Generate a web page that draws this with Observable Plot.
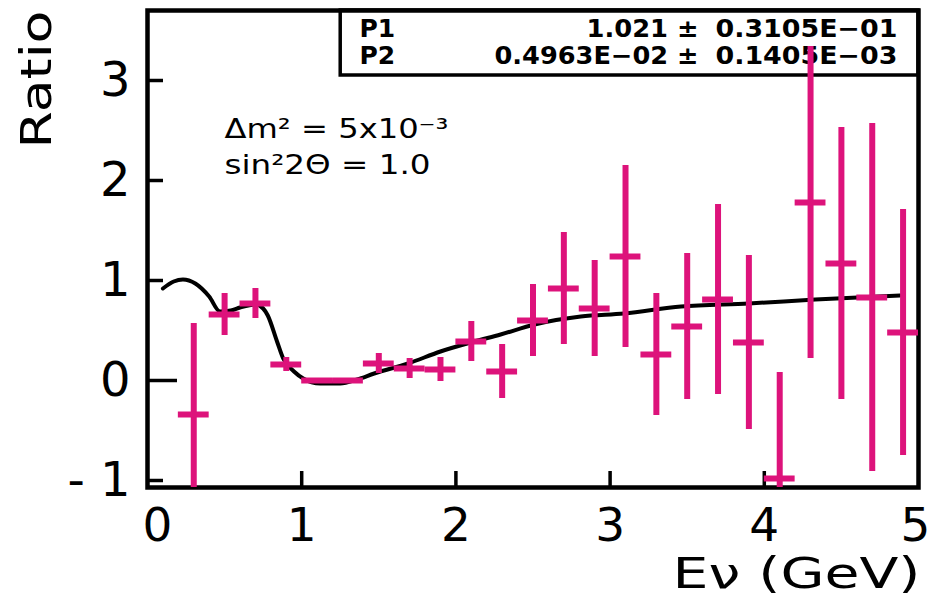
<!DOCTYPE html>
<html>
<head>
<meta charset="utf-8">
<script src="https://cdn.jsdelivr.net/npm/d3@7"></script>
<script src="https://cdn.jsdelivr.net/npm/@observablehq/plot@0.6"></script>
<style>
  html, body { margin: 0; padding: 0; background: #fff; }
  #chart svg { display: block; }
</style>
</head>
<body>
<div id="chart"></div>
<script>
// ---------- data ----------
const binCenters = [0.3, 0.5, 0.7, 0.9, 1.1, 1.3, 1.5, 1.7, 1.9, 2.1, 2.3, 2.5, 2.7, 2.9, 3.1, 3.3, 3.5, 3.7, 3.9, 4.1, 4.3, 4.5, 4.7, 4.9];
const ratioValues = [-0.34, 0.66, 0.77, 0.16, 0.00, 0.00, 0.17, 0.12, 0.11, 0.39, 0.09, 0.60, 0.92, 0.72, 1.24, 0.26, 0.54, 0.81, 0.38, -0.98, 1.78, 1.17, 0.83, 0.48];
const ratioErrors = [0.91, 0.21, 0.15, 0.07, 0.02, 0.02, 0.10, 0.10, 0.12, 0.20, 0.27, 0.36, 0.56, 0.48, 0.91, 0.61, 0.73, 0.95, 0.87, 1.06, 1.56, 1.36, 1.74, 1.23];
const binWidth = 0.2;

const fitE = [0.10, 0.17, 0.23, 0.31, 0.40, 0.47, 0.54, 0.60, 0.70, 0.75, 0.78, 0.84, 0.88, 0.95, 1.01, 1.12, 1.25, 1.36, 1.47, 1.69, 1.90, 2.12, 2.29, 2.51, 2.81, 3.09, 3.46, 3.90, 4.33, 4.88];
const fitRatio = [0.92, 0.99, 1.01, 0.97, 0.84, 0.69, 0.70, 0.73, 0.76, 0.72, 0.65, 0.39, 0.22, 0.09, 0.02, -0.03, -0.03, 0.01, 0.07, 0.17, 0.29, 0.39, 0.46, 0.56, 0.64, 0.67, 0.74, 0.77, 0.81, 0.85];

const xTicks = [0, 1, 2, 3, 4, 5];
const yTicks = [-1, 0, 1, 2, 3];

const statNames = ["P1", "P2"];
const statValues = ["1.021 \u00B1", "0.4963E\u221202 \u00B1"];
const statErrors = ["0.3105E\u221201", "0.1405E\u221203"];

const annotationLines = ["\u0394m\u00B2 = 5x10\u207B\u00B3", "sin\u00B22\u0398 = 1.0"];

const xLabel = "E\u03BD (GeV)";
const yLabel = "Ratio";

// ---------- tables ----------
const points = binCenters.map((E, i) => ({E, r: ratioValues[i], e: ratioErrors[i]}));
const fit = fitE.map((E, i) => ({E, r: fitRatio[i]}));

// ---------- layout ----------
const W = 931, H = 605;
const mL = 147, mR = 13, mT = 10, mB = 118;
const frameW = W - mL - mR, frameH = H - mT - mB;
const pink = "#dd137b";
const axisFont = "DejaVu Sans, sans-serif";

const statFont = {fontFamily: axisFont, fontWeight: "bold", fontSize: 25, fill: "black", lineAnchor: "bottom", frameAnchor: "top-left"};
const statMarks = statNames.flatMap((n, i) => [
  Plot.text([n], {...statFont, text: d => d, dx: 212, dy: 26 + 27 * i, textAnchor: "start"}),
  Plot.text([statValues[i]], {...statFont, text: d => d, dx: 551, dy: 26 + 27 * i, textAnchor: "end"}),
  Plot.text([statErrors[i]], {...statFont, text: d => d, dx: 750, dy: 26 + 27 * i, textAnchor: "end"})
]);
const noteMarks = annotationLines.map((t, i) =>
  Plot.text([t], {frameAnchor: "top-left", text: d => d, dx: 77, dy: 127 + 36 * i, lineAnchor: "bottom", textAnchor: "start",
    fontFamily: axisFont, fontSize: 27, fill: "black"}));

// x tick labels: first and last nudged like the reference
const xTickFont = {frameAnchor: "bottom", text: d => String(d), x: d => d, lineAnchor: "top", dy: 20,
  fontFamily: axisFont, fontSize: 47, fill: "black"};
const xTickLabelMarks = [
  Plot.text(xTicks.filter(d => d === 0), {...xTickFont, dx: 10}),
  Plot.text(xTicks.filter(d => d > 0 && d < 5), {...xTickFont}),
  Plot.text(xTicks.filter(d => d === 5), {...xTickFont, dx: -3})
];

const chart = Plot.plot({
  width: W, height: H,
  marginLeft: mL, marginRight: mR, marginTop: mT, marginBottom: mB,
  x: {domain: [0, 5], axis: null},
  y: {domain: [-1.07, 3.70]},
  style: {background: "white", color: "black", overflow: "visible"},
  marks: [
    // stats box
    Plot.rect([0], {x1: 1.253, x2: 5, y1: 3.05, y2: 3.70, fill: "white", stroke: "black", strokeWidth: 3.5}),
    ...statMarks,
    ...noteMarks,
    // frame and inward ticks
    Plot.frame({stroke: "black", strokeWidth: 4.5}),
    Plot.tickX(xTicks.filter(d => d > 0 && d < 5), {x: d => d, insetTop: frameH - 16, stroke: "black", strokeWidth: 3.5}),
    Plot.tickY(yTicks.filter(d => d !== 0), {y: d => d, insetRight: frameW - 16, stroke: "black", strokeWidth: 3.5}),
    Plot.tickY(yTicks.filter(d => d === 0), {y: d => d, insetRight: frameW - 30, stroke: "black", strokeWidth: 3.5}),
    // axes labels
    ...xTickLabelMarks,
    Plot.axisY({ticks: yTicks, tickSize: 0, tickPadding: 17, fontSize: 48, fontFamily: axisFont, label: null,
      tickFormat: d => d < 0 ? "- " + (-d) : String(d)}),
    Plot.text([xLabel], {frameAnchor: "bottom-right", text: d => d, dx: 2, dy: 100, lineAnchor: "bottom", textAnchor: "end",
      fontFamily: axisFont, fontSize: 43, fill: "black"}),
    Plot.text([yLabel], {frameAnchor: "top-left", text: d => d, dx: -110, dy: 0, rotate: -90, lineAnchor: "middle", textAnchor: "end",
      fontFamily: axisFont, fontSize: 43, fill: "black"}),
    // fit curve
    Plot.line(fit, {x: "E", y: "r", curve: "monotone-x", stroke: "black", strokeWidth: 4}),
    // data points with error bars
    Plot.ruleX(points, {x: "E", y1: d => d.r - d.e, y2: d => d.r + d.e, stroke: pink, strokeWidth: 6, clip: true}),
    Plot.ruleY(points, {y: "r", x1: d => d.E - binWidth / 2, x2: d => d.E + binWidth / 2, stroke: pink, strokeWidth: 6, clip: true})
  ]
});

document.getElementById("chart").appendChild(chart);

// stretch the wide labels to the reference's text widths
const stretch = {
  [xLabel]: 248, [yLabel]: 138,
  [annotationLines[0]]: 224, [annotationLines[1]]: 206,
  [statErrors[0]]: 182, [statErrors[1]]: 182,
  [statValues[0]]: 112, [statValues[1]]: 204
};
d3.select(chart).selectAll("text")
  .filter(function () { return stretch[this.textContent] !== undefined; })
  .attr("textLength", function () { return stretch[this.textContent]; })
  .attr("lengthAdjust", "spacingAndGlyphs");
</script>
</body>
</html>
